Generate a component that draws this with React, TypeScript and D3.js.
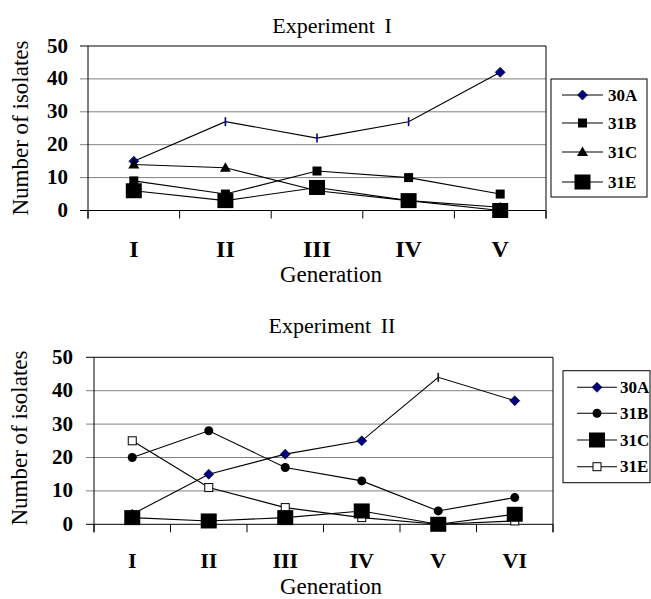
import * as d3 from "d3";

// Experiment I
const gen1 = ["I", "II", "III", "IV", "V"];
const exp1_30A = [15, 27, 22, 27, 42];
const exp1_31B = [9, 5, 12, 10, 5];
const exp1_31C = [14, 13, 6, 3, 1];
const exp1_31E = [6, 3, 7, 3, 0];

// Experiment II
const gen2 = ["I", "II", "III", "IV", "V", "VI"];
const exp2_30A = [3, 15, 21, 25, 44, 37];
const exp2_31B = [20, 28, 17, 13, 4, 8];
const exp2_31C = [2, 1, 2, 4, 0, 3];
const exp2_31E = [25, 11, 5, 2, 0, 1];

const yTicks = [0, 10, 20, 30, 40, 50];

const serif = "Liberation Serif, Times New Roman, DejaVu Serif, serif";

type Series = {
  name: string;
  values: number[];
  marker: string;
  color?: string;
  tickAt?: number[]; // points drawn as a small vertical dash instead of the marker
  tickColor?: string;
};

function Marker({ type, x, y, color }: { type: string; x: number; y: number; color?: string }) {
  switch (type) {
    case "diamond":
      return <path d={`M${x},${y - 5}L${x + 5},${y}L${x},${y + 5}L${x - 5},${y}Z`} fill={color || "#000080"} stroke="#000" strokeWidth={0.6} />;
    case "square":
      return <rect x={x - 4.5} y={y - 4.5} width={9} height={9} fill="#000" />;
    case "bigSquare":
      return <rect x={x - 8} y={y - 7.5} width={16} height={15} fill="#000" />;
    case "triangle":
      return <path d={`M${x},${y - 5.5}L${x + 5.5},${y + 4}L${x - 5.5},${y + 4}Z`} fill="#000" />;
    case "circle":
      return <circle cx={x} cy={y} r={4.5} fill="#000" />;
    case "openSquare":
      return <rect x={x - 4} y={y - 4} width={8} height={8} fill="#fff" stroke="#000" strokeWidth={1} />;
    default:
      return null;
  }
}

type ChartProps = {
  cats: string[];
  series: Series[];
  drawOrder: number[];
  left: number; right: number; top: number; bottom: number;
  title: string; titleX: number; titleY: number;
  genX: number; genY: number;
  yLabelX: number; yLabelY: number;
  catY: number; catSize: number;
  tickLabelX: number;
  legend: { x: number; y: number; w: number; h: number; rowY: number[]; lx0: number; lx1: number; tx: number };
};

function LineChart(p: ChartProps) {
  const x = d3.scaleBand<string>().domain(p.cats).range([p.left, p.right]);
  const y = d3.scaleLinear().domain([0, 50]).range([p.bottom, p.top]);
  const line = d3.line<number>()
    .x((_, i) => x(p.cats[i])! + x.bandwidth() / 2)
    .y(d => y(d));
  const bounds = p.cats.map(c => x(c)!).concat([p.right]);
  const font = { fontFamily: serif };

  return (
    <g>
      <text x={p.titleX} y={p.titleY} textAnchor="middle" style={font} fontSize={22} wordSpacing={4}>{p.title}</text>
      {yTicks.map(t => (
        <g key={t}>
          <line x1={p.left - 8} x2={p.right} y1={y(t)} y2={y(t)} stroke={t === 0 || t === 50 ? "#000" : "#808080"} strokeWidth={1} />
          <text x={p.tickLabelX} y={y(t) + 6.5} textAnchor="end" style={font} fontWeight="bold" fontSize={21}>{t}</text>
        </g>
      ))}
      <line x1={p.left} x2={p.left} y1={p.top} y2={p.bottom + 8} stroke="#000" />
      <line x1={p.right} x2={p.right} y1={p.top} y2={p.bottom + 8} stroke="#000" />
      {bounds.map((b, i) => (
        <line key={i} x1={b} x2={b} y1={p.bottom} y2={p.bottom + 8} stroke="#000" />
      ))}
      {p.cats.map(c => (
        <text key={c} x={x(c)! + x.bandwidth() / 2} y={p.catY} textAnchor="middle" style={font} fontWeight="bold" fontSize={p.catSize}>{c}</text>
      ))}
      <text x={p.genX} y={p.genY} textAnchor="middle" style={font} fontSize={23}>Generation</text>
      <text transform={`translate(${p.yLabelX},${p.yLabelY}) rotate(-90)`} textAnchor="middle" style={font} fontSize={23}>Number of isolates</text>

      {p.series.map(s => (
        <path key={s.name} d={line(s.values)!} fill="none" stroke="#000" strokeWidth={1.1} />
      ))}
      {p.drawOrder.map(k => {
        const s = p.series[k];
        return s.values.map((v, i) => {
          const cx = x(p.cats[i])! + x.bandwidth() / 2;
          const cy = y(v);
          if (s.tickAt && s.tickAt.includes(i)) {
            return <line key={s.name + i} x1={cx} x2={cx} y1={cy - 4.5} y2={cy + 4.5} stroke={s.tickColor || "#000080"} strokeWidth={1.6} />;
          }
          return <Marker key={s.name + i} type={s.marker} x={cx} y={cy} color={s.color} />;
        });
      })}

      <rect x={p.legend.x} y={p.legend.y} width={p.legend.w} height={p.legend.h} fill="#fff" stroke="#000" strokeWidth={1} />
      {p.series.map((s, i) => {
        const ry = p.legend.rowY[i];
        const mx = (p.legend.lx0 + p.legend.lx1) / 2;
        return (
          <g key={s.name}>
            <line x1={p.legend.lx0} x2={p.legend.lx1} y1={ry} y2={ry} stroke="#000" strokeWidth={1.1} />
            <Marker type={s.marker} x={mx} y={ry} color={s.color} />
            <text x={p.legend.tx} y={ry + 5.5} style={font} fontWeight="bold" fontSize={17}>{s.name}</text>
          </g>
        );
      })}
    </g>
  );
}

export default function App() {
  const series1: Series[] = [
    { name: "30A", values: exp1_30A, marker: "diamond", color: "#000080", tickAt: [1, 2, 3], tickColor: "#000080" },
    { name: "31B", values: exp1_31B, marker: "square" },
    { name: "31C", values: exp1_31C, marker: "triangle" },
    { name: "31E", values: exp1_31E, marker: "bigSquare" },
  ];
  const series2: Series[] = [
    { name: "30A", values: exp2_30A, marker: "diamond", color: "#000080", tickAt: [4], tickColor: "#111" },
    { name: "31B", values: exp2_31B, marker: "circle" },
    { name: "31C", values: exp2_31C, marker: "bigSquare" },
    { name: "31E", values: exp2_31E, marker: "openSquare" },
  ];

  return (
    <svg width={651} height={599} style={{ position: "absolute", left: 0, top: 0, background: "#fff" }}>
      <rect width={651} height={599} fill="#fff" />
      <LineChart
        cats={gen1} series={series1} drawOrder={[0, 1, 2, 3]}
        left={88} right={546} top={46} bottom={210.5}
        title="Experiment I" titleX={332} titleY={33}
        genX={331} genY={282}
        yLabelX={28} yLabelY={128}
        catY={257} catSize={24}
        tickLabelX={68}
        legend={{ x: 551, y: 79, w: 96, h: 118, rowY: [95, 123, 152, 182], lx0: 562, lx1: 603, tx: 608 }}
      />
      <LineChart
        cats={gen2} series={series2} drawOrder={[0, 1, 3, 2]}
        left={94} right={553} top={357.3} bottom={524.3}
        title="Experiment II" titleX={332} titleY={333}
        genX={331} genY={594}
        yLabelX={27} yLabelY={438}
        catY={568} catSize={22}
        tickLabelX={73}
        legend={{ x: 563, y: 370.7, w: 87, h: 112, rowY: [387.3, 413.3, 440, 466.7], lx0: 577, lx1: 617, tx: 620 }}
      />
    </svg>
  );
}
